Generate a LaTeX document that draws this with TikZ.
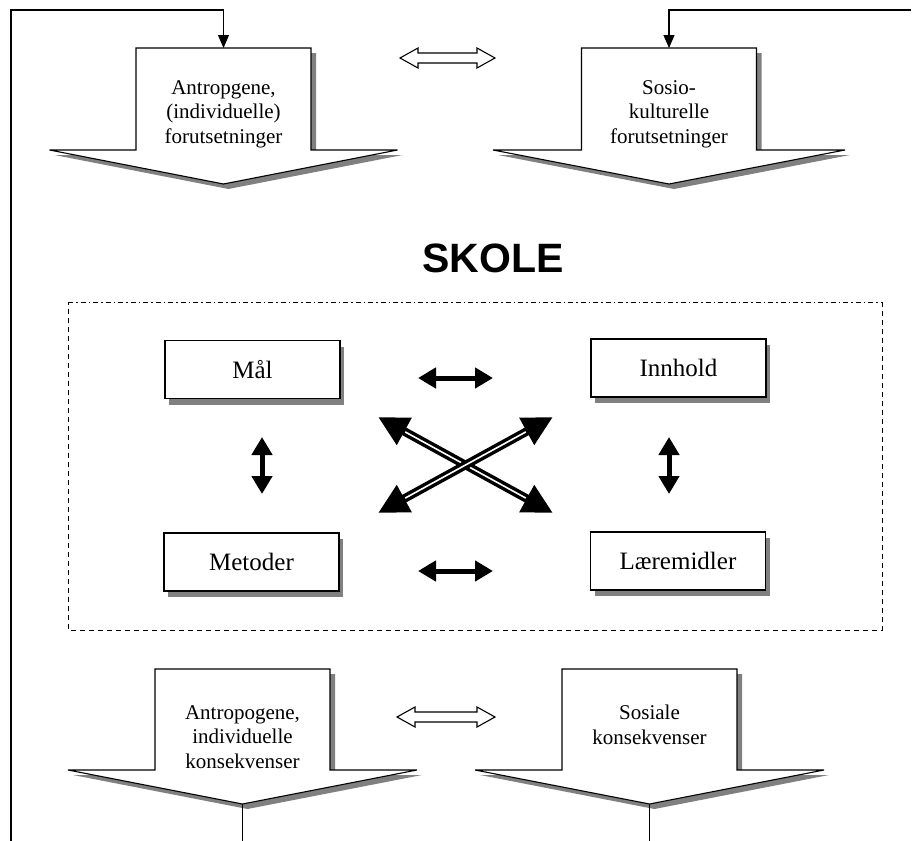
\documentclass[tikz,border=0pt]{standalone}
\usepackage{fontspec}
\setmainfont{Liberation Serif}
\setsansfont{Liberation Sans}
\usetikzlibrary{arrows.meta,shadows}

\tikzset{
  box/.style={draw,line width=1.3bp,fill=white,minimum width=175bp,minimum height=58bp,
    font=\fontsize{25bp}{30bp}\selectfont,
    general shadow={fill=black!50,shadow xshift=4bp,shadow yshift=-6bp}},
  bigarrow/.style={draw,line width=1.1bp,fill=white,line join=miter},
  bigshadow/.style={fill=black!50,shift={(5,5)}},
  bigtext/.style={align=center,font=\fontsize{21bp}{24.5bp}\selectfont},
  link/.style={line width=1.1bp,-{Triangle[length=13bp,width=11bp]}},
  twoway/.style={line width=5bp,{Triangle[length=18bp,width=20bp]}-{Triangle[length=18bp,width=20bp]}},
  cross/.style={line width=8.5bp,{Triangle[length=30bp,width=29bp]}-{Triangle[length=30bp,width=29bp]}},
  stripe/.style={white,line width=1.6bp,shift={(0,2.2)},shorten <=31bp,shorten >=31bp},
  hollow/.style={draw,line width=1.1bp,fill=white,line join=miter}
}

\begin{document}
\begin{tikzpicture}[x=1bp,y=-1bp]
  \useasboundingbox (0,0) rectangle (912,841);
  % feedback frame
  \coordinate (antroTop) at (223.5,48);
  \coordinate (sosioTop) at (669,48);
  \coordinate (frameFoot) at (11,841);
  \coordinate (frameCorner) at (11,10);
  \coordinate (frameRight) at (911,10);
  \draw[link] (frameFoot) -- (frameCorner) -| (antroTop);
  \draw[link] (frameRight) -| (sosioTop);
  % top block arrows
  \fill[bigshadow] (136,48) -- (311,48) -- (311,150) -- (397.5,150) -- (223.5,184) -- (49.5,150) -- (136,150) -- cycle;
  \draw[bigarrow] (136,48) -- (311,48) -- (311,150) -- (397.5,150) -- (223.5,184) -- (49.5,150) -- (136,150) -- cycle;
  \fill[bigshadow] (581.5,48) -- (756.5,48) -- (756.5,150) -- (845,150) -- (669,184) -- (493,150) -- (581.5,150) -- cycle;
  \draw[bigarrow] (581.5,48) -- (756.5,48) -- (756.5,150) -- (845,150) -- (669,184) -- (493,150) -- (581.5,150) -- cycle;
  \node[bigtext] (antro) at (223.5,114) {Antropgene,\\(individuelle)\\forutsetninger};
  \node[bigtext] (sosio) at (669,114) {Sosio-\\kulturelle\\forutsetninger};
  \draw[hollow] (400,58) -- (418,48) -- (418,53) -- (477,53) -- (477,48) -- (495,58) -- (477,68) -- (477,63) -- (418,63) -- (418,68) -- cycle;
  % school
  \node[font=\sffamily\bfseries\fontsize{41bp}{48bp}\selectfont] (skole) at (493,258) {SKOLE};
  \draw[line width=1bp,dash pattern=on 5bp off 3bp on 1.5bp off 3bp] (68,302) -- (882,302);
  \draw[line width=1bp,dash pattern=on 5bp off 4bp] (882,302) -- (882,630) -- (68,630) -- (68,302);
  \node[box] (mal) at (252.5,369.5) {Mål};
  \node[box] (innhold) at (678.5,368) {Innhold};
  \node[box] (metoder) at (251.5,562) {Metoder};
  \node[box] (laeremidler) at (678,561) {Læremidler};
  \coordinate (topL) at (418,378);
  \coordinate (topR) at (493,378);
  \coordinate (botL) at (418,571);
  \coordinate (botR) at (493,571);
  \coordinate (leftU) at (262,437);
  \coordinate (leftD) at (262,494);
  \coordinate (rightU) at (669,437);
  \coordinate (rightD) at (669,494);
  \draw[twoway] (topL) -- (topR);
  \draw[twoway] (botL) -- (botR);
  \draw[twoway] (leftU) -- (leftD);
  \draw[twoway] (rightU) -- (rightD);
  \coordinate (crossNW) at (378,417);
  \coordinate (crossNE) at (553,417);
  \coordinate (crossSW) at (378,513);
  \coordinate (crossSE) at (553,513);
  \draw[cross] (crossNW) -- (crossSE);
  \draw[stripe] (crossNW) -- (crossSE);
  \draw[cross] (crossSW) -- (crossNE);
  \draw[stripe] (crossSW) -- (crossNE);
  % bottom block arrows
  \fill[bigshadow] (155,669) -- (330,669) -- (330,770) -- (417,770) -- (242.5,804) -- (68,770) -- (155,770) -- cycle;
  \draw[bigarrow] (155,669) -- (330,669) -- (330,770) -- (417,770) -- (242.5,804) -- (68,770) -- (155,770) -- cycle;
  \fill[bigshadow] (562,669) -- (737,669) -- (737,770) -- (824,770) -- (649.5,804) -- (475,770) -- (562,770) -- cycle;
  \draw[bigarrow] (562,669) -- (737,669) -- (737,770) -- (824,770) -- (649.5,804) -- (475,770) -- (562,770) -- cycle;
  \node[bigtext] (indkons) at (242.5,737) {Antropogene,\\individuelle\\konsekvenser};
  \node[bigtext] (soskons) at (649.5,725) {Sosiale\\konsekvenser};
  \draw[hollow] (397,717) -- (415,707) -- (415,712) -- (477,712) -- (477,707) -- (495,717) -- (477,727) -- (477,722) -- (415,722) -- (415,727) -- cycle;
  \coordinate (indTip) at (242.5,804);
  \coordinate (indFoot) at (242.5,841);
  \coordinate (sosTip) at (649.5,804);
  \coordinate (sosFoot) at (649.5,841);
  \draw[line width=1.1bp] (indTip) -- (indFoot);
  \draw[line width=1.1bp] (sosTip) -- (sosFoot);
\end{tikzpicture}
\end{document}
